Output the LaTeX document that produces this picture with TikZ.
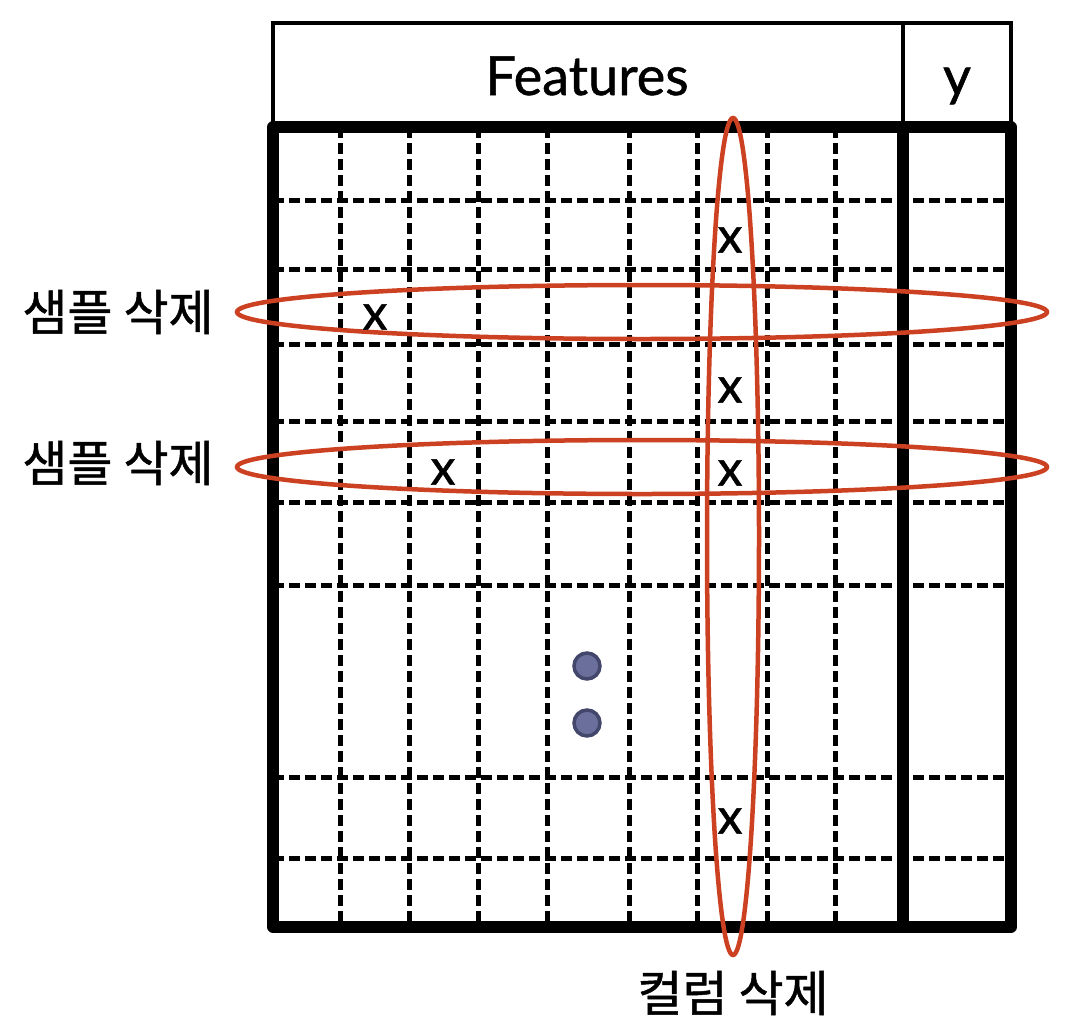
\documentclass[tikz,border=0pt]{standalone}
\usepackage{fontspec}
\setmainfont{Lato}
\newfontfamily\headfont{Lato}[FakeBold=1]
\newfontfamily\krfont{Noto Sans CJK KR}[FakeBold=1]
\definecolor{redring}{RGB}{205,65,35}
\definecolor{dotfill}{RGB}{107,111,156}
\definecolor{dotline}{RGB}{67,71,107}
\begin{document}
\begin{tikzpicture}[x=1pt,y=-1pt,
  gridline/.style={line width=5pt, dash pattern=on 11pt off 5pt},
  thinframe/.style={line width=4.5pt},
  frame/.style={line width=11.5pt, line join=round, line cap=round},
  ring/.style={draw=redring, line width=4.5pt},
  xmark/.style={font=\headfont\fontsize{50}{50}\selectfont, inner sep=0pt},
  headtext/.style={font=\headfont\fontsize{54}{54}\selectfont, inner sep=0pt, anchor=base},
  klabel/.style={font=\krfont\fontsize{49}{49}\selectfont, inner sep=0pt},
  dotstyle/.style={circle, fill=dotfill, draw=dotline, line width=3.5pt, minimum size=26pt, inner sep=0pt}
]
\useasboundingbox (0,0) rectangle (1074,1026);
% header
\draw[thinframe] (273,127) -- (273,23) -- (1011,23) -- (1011,127);
\draw[thinframe] (903,23) -- (903,127);
\node[headtext] (feat) at (587,95) {Features};
\node[headtext] (ylab) at (957,95) {y};
% dashed grid
\foreach \y in {200,269,344,421,502,585,777,858}
  \draw[gridline] (273,\y) -- (1011,\y);
\foreach \x in {340,409,478,547,629,697,767,835}
  \draw[gridline] (\x,127) -- (\x,927);
% thick frame
\draw[frame] (273,127) rectangle (1011,927);
\draw[frame] (903,127) -- (903,927);
% dots
\node[dotstyle] (dot1) at (587,666) {};
\node[dotstyle] (dot2) at (587,723) {};
% rings
\draw[ring] (642,312) ellipse [x radius=405pt, y radius=27pt];
\draw[ring] (642,467) ellipse [x radius=405pt, y radius=27pt];
\draw[ring] (733,536.5) ellipse [x radius=26pt, y radius=418.5pt];
% x marks
\node[xmark] (x1) at (730,240) {x};
\node[xmark] (x2) at (375,317) {x};
\node[xmark] (x3) at (730,390) {x};
\node[xmark] (x4) at (443,472) {x};
\node[xmark] (x5) at (730,473) {x};
\node[xmark] (x6) at (730,821) {x};
% labels
\node[klabel] (lab1) at (118,312) {샘플 삭제};
\node[klabel] (lab2) at (118,463) {샘플 삭제};
\node[klabel] (lab3) at (733,993) {컬럼 삭제};
\end{tikzpicture}
\end{document}
